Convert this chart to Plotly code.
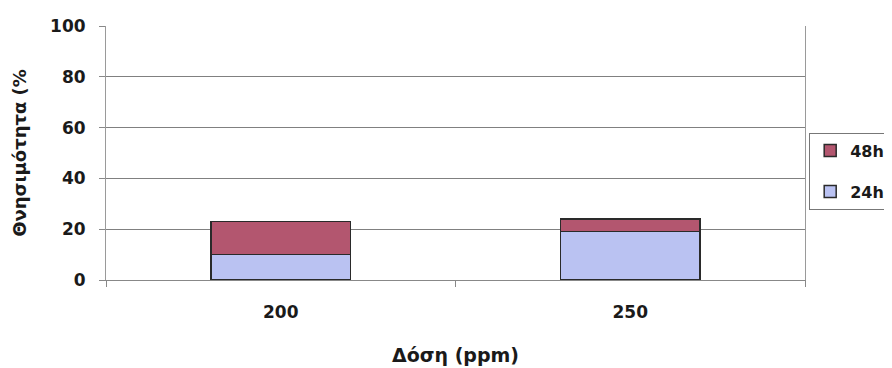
import plotly.graph_objects as go

categories = ["200", "250"]
mort_24h = [10, 19]
mort_48h = [13, 5]
y_ticks = [0, 20, 40, 60, 80, 100]

FONT = "DejaVu Sans, Verdana, sans-serif"

fig = go.Figure()
fig.add_trace(go.Bar(
    x=categories, y=mort_24h, name="24h", legendgroup="a", legendrank=2,
    marker=dict(color="#BAC2F2", line=dict(color="#2a2a2a", width=1.5)),
))
fig.add_trace(go.Bar(
    x=categories, y=mort_48h, name="48h", legendgroup="b", legendrank=1,
    marker=dict(color="#B3566F", line=dict(color="#2a2a2a", width=1.5)),
))

# The page body adds an 8px offset, so margins are shifted to compensate.
fig.update_layout(
    barmode="stack",
    bargap=0.6,
    width=892, height=368,
    margin=dict(l=98, r=95, t=18, b=96, autoexpand=False),
    paper_bgcolor="white",
    plot_bgcolor="white",
    font=dict(family=FONT, size=17, color="#1a1a1a", weight="bold"),
    showlegend=True,
    legend=dict(
        x=1.006, y=0.58, xanchor="left", yanchor="top",
        traceorder="grouped",
        bordercolor="#777", borderwidth=1,
        font=dict(family=FONT, size=16, color="#1a1a1a", weight="bold"),
        itemwidth=30, tracegroupgap=17,
    ),
)
fig.update_yaxes(
    range=[0, 100], tickvals=y_ticks, automargin=False,
    showgrid=True, gridcolor="#808080", gridwidth=1,
    showline=True, mirror=True, linecolor="#9a9a9a", linewidth=1,
    ticks="outside", ticklen=6, tickcolor="#888",
    ticklabelstandoff=10,
    zeroline=False,
    tickfont=dict(family=FONT, size=17, weight="bold"),
    title=dict(text="Θνησιμότητα (%", standoff=18,
               font=dict(family=FONT, size=18, weight="bold")),
)
fig.update_xaxes(
    automargin=False,
    showline=True, linecolor="#888", linewidth=1,
    ticks="outside", ticklen=6, tickcolor="#888", tickson="boundaries",
    ticklabelstandoff=17,
    tickfont=dict(family=FONT, size=17, weight="bold"),
    title=dict(text="Δόση (ppm)", standoff=27,
               font=dict(family=FONT, size=19, weight="bold")),
)

fig.write_html("out.html")
